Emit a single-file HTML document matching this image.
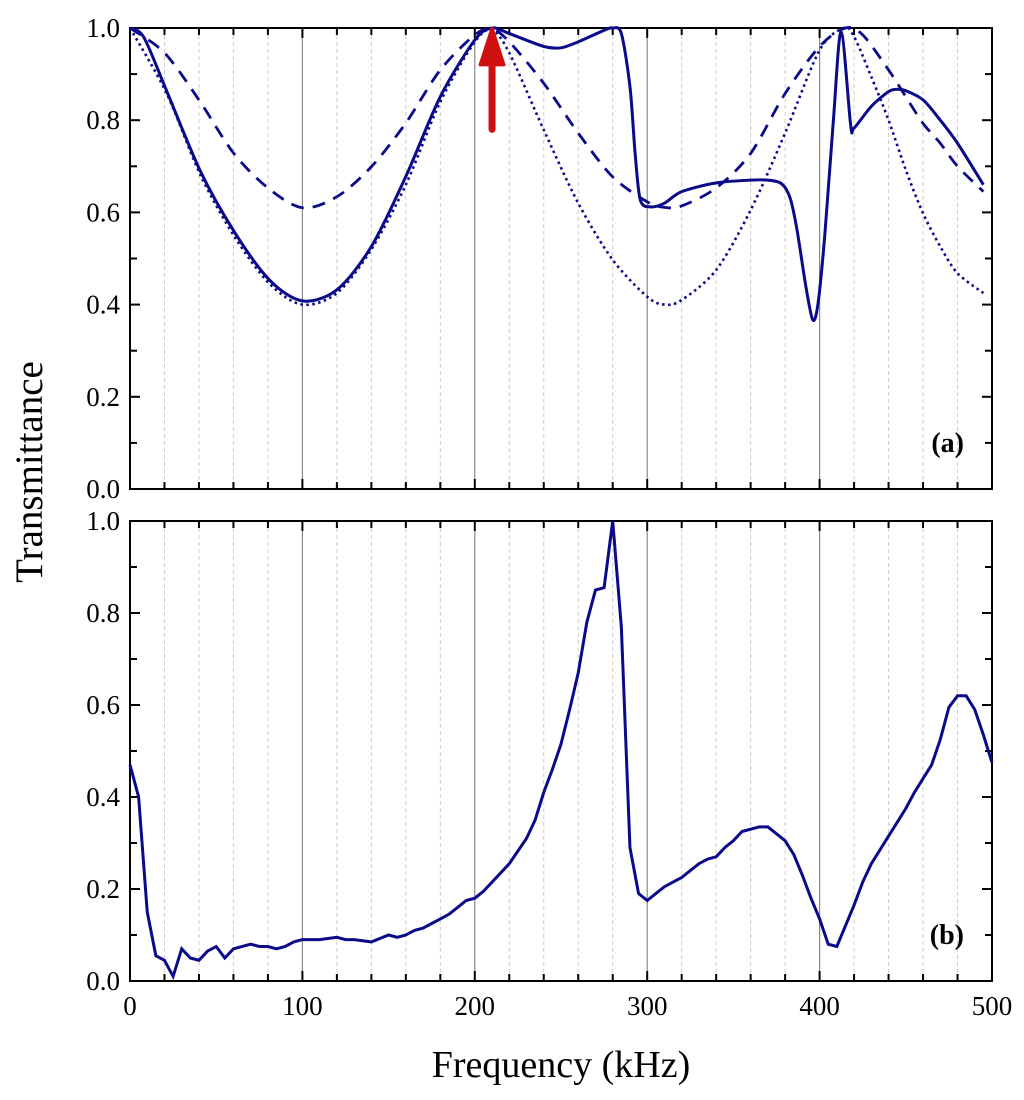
<!DOCTYPE html>
<html><head><meta charset="utf-8"><style>
body{margin:0;background:#fff}
svg text{font-family:"Liberation Serif",serif;fill:#000}
</style></head><body>
<svg id="chart" width="1024" height="1095" xmlns="http://www.w3.org/2000/svg"></svg>
<script>
const xTicks=[0,100,200,300,400,500];
const yTicks=[0.0,0.2,0.4,0.6,0.8,1.0];
const solidA=[[0,1.0],[8,0.98],[21,0.866],[41,0.688],[61,0.555],[81,0.453],[100,0.408],[120,0.432],[140,0.526],[160,0.678],[180,0.851],[200,0.974],[210,1.0],[220,0.988],[240,0.96],[250,0.957],[260,0.97],[275,0.995],[280,1.0],[285,0.988],[290,0.873],[293,0.728],[296,0.627],[302,0.612],[310,0.62],[320,0.645],[340,0.664],[360,0.67],[370,0.67],[378,0.662],[383,0.63],[387,0.56],[392,0.44],[396,0.367],[399,0.4],[403,0.55],[408,0.8],[412.5,0.992],[418,0.79],[420,0.783],[430,0.83],[440,0.862],[445,0.867],[450,0.864],[460,0.844],[470,0.8],[480,0.75],[495,0.66]];
const dashedA=[[0,1],[20,0.946],[40,0.844],[60,0.729],[80,0.653],[100,0.61],[120,0.634],[140,0.699],[160,0.794],[180,0.909],[200,0.985],[210,0.998],[220,0.97],[240,0.88],[260,0.772],[280,0.677],[300,0.623],[310,0.611],[320,0.614],[340,0.653],[360,0.728],[380,0.858],[400,0.96],[415,1.0],[425,0.985],[440,0.909],[450,0.851],[460,0.793],[470,0.75],[480,0.7],[495,0.645]];
const dottedA=[[0,1],[21,0.86],[41,0.68],[61,0.545],[81,0.445],[100,0.4],[120,0.425],[140,0.52],[160,0.66],[180,0.84],[200,0.97],[210,0.995],[220,0.946],[240,0.779],[260,0.62],[280,0.497],[300,0.417],[310,0.4],[320,0.41],[340,0.475],[360,0.605],[380,0.772],[400,0.952],[414,1.0],[420,0.981],[430,0.894],[440,0.8],[450,0.692],[460,0.598],[470,0.526],[480,0.468],[495,0.425]];
const seriesB=[[0,0.47],[5,0.4],[10,0.15],[15,0.055],[20,0.045],[25,0.01],[30,0.07],[35,0.05],[40,0.045],[45,0.065],[50,0.075],[55,0.05],[60,0.07],[70,0.08],[75,0.075],[80,0.075],[85,0.07],[90,0.075],[95,0.085],[100,0.09],[110,0.09],[120,0.095],[125,0.09],[130,0.09],[140,0.085],[150,0.1],[155,0.095],[160,0.1],[165,0.11],[170,0.115],[175,0.125],[180,0.135],[185,0.145],[190,0.16],[195,0.175],[200,0.18],[205,0.195],[210,0.215],[220,0.255],[230,0.31],[235,0.35],[240,0.41],[245,0.46],[250,0.515],[255,0.59],[260,0.67],[265,0.78],[270,0.85],[275,0.855],[280,1.0],[285,0.77],[290,0.29],[295,0.19],[300,0.175],[305,0.19],[310,0.205],[315,0.215],[320,0.225],[325,0.24],[330,0.255],[335,0.265],[340,0.27],[345,0.29],[350,0.305],[355,0.325],[360,0.33],[365,0.335],[370,0.335],[375,0.32],[380,0.305],[385,0.275],[390,0.23],[395,0.18],[400,0.135],[405,0.08],[410,0.075],[415,0.12],[420,0.165],[425,0.215],[430,0.255],[435,0.285],[440,0.315],[445,0.345],[450,0.375],[455,0.41],[460,0.44],[465,0.47],[470,0.525],[475,0.595],[480,0.62],[485,0.62],[490,0.59],[495,0.535],[500,0.475]];
const arrowFreq=210;

const svg=document.getElementById('chart');
const NS='http://www.w3.org/2000/svg';
function mk(tag,attrs,parent){const e=document.createElementNS(NS,tag);for(const k in attrs)e.setAttribute(k,attrs[k]);(parent||svg).appendChild(e);return e;}
const X0=130,X1=992;
function xs(v){return X0+(X1-X0)*v/500;}
function panel(top,bot,name,label){
  const ys=v=>bot-(bot-top)*v;
  const g=mk('g',{});
  
  
  for(let f=20;f<500;f+=20){
    const major=f%100===0;
    const l=mk('line',{x1:xs(f),x2:xs(f),y1:top,y2:bot,stroke:major?'#888':'#ccc','stroke-width':major?1.2:1,'stroke-dasharray':major?'':'4,3'},g);
    
    
    const len=major?10:7;
    mk('line',{x1:xs(f),x2:xs(f),y1:bot,y2:bot-len,stroke:'#000','stroke-width':2},g);
    mk('line',{x1:xs(f),x2:xs(f),y1:top,y2:top+len,stroke:'#000','stroke-width':2},g);
  }
  for(let i=1;i<10;i++){
    const y=ys(i/10),len=i%2===0?10:7;
    mk('line',{x1:X0,x2:X0+len,y1:y,y2:y,stroke:'#000','stroke-width':2},g);
    mk('line',{x1:X1,x2:X1-len,y1:y,y2:y,stroke:'#000','stroke-width':2},g);
  }
  const fr=mk('rect',{x:X0,y:top,width:X1-X0,height:bot-top,fill:'none',stroke:'#000','stroke-width':2},g);
  
  
  yTicks.forEach(v=>{
    const t=mk('text',{x:X0-10,y:ys(v)+9,'text-anchor':'end','font-size':27},g);
    t.textContent=v.toFixed(1);
    
    
  });
  const pl=mk('text',{x:964,y:bot-37,'text-anchor':'end','font-size':28,'font-weight':'bold'},g);
  pl.textContent=label;
  
  
  return ys;
}
function smooth(pts,xs_,ys_){
  const P=pts.map(p=>[xs_(p[0]),ys_(p[1])]);
  let d='M'+P[0][0]+','+P[0][1];
  for(let i=0;i<P.length-1;i++){
    const p0=P[Math.max(0,i-1)],p1=P[i],p2=P[i+1],p3=P[Math.min(P.length-1,i+2)];
    const t=0.15;
    d+=' C'+(p1[0]+(p2[0]-p0[0])*t)+','+(p1[1]+(p2[1]-p0[1])*t)+' '+(p2[0]-(p3[0]-p1[0])*t)+','+(p2[1]-(p3[1]-p1[1])*t)+' '+p2[0]+','+p2[1];
  }
  return d;
}
const C='#0a0a8a';
const ya=panel(28,489,'panel-a','(a)');
const pd=mk('path',{d:smooth(dashedA,xs,ya),fill:'none',stroke:C,'stroke-width':2.8,'stroke-dasharray':'13,9'});


const pt=mk('path',{d:smooth(dottedA,xs,ya),fill:'none',stroke:C,'stroke-width':2.6,'stroke-dasharray':'2.5,3.5'});


const ps=mk('path',{d:smooth(solidA,xs,ya),fill:'none',stroke:C,'stroke-width':3});


const ag=mk('g',{});


mk('line',{x1:xs(arrowFreq),x2:xs(arrowFreq),y1:ya(0.78),y2:ya(0.93),stroke:'#d01010','stroke-width':7,'stroke-linecap':'round'},ag);
mk('polygon',{points:`${xs(arrowFreq)-12},${ya(0.92)} ${xs(arrowFreq)},${ya(1.0)} ${xs(arrowFreq)+12},${ya(0.92)}`,fill:'#d01010','stroke':'#d01010','stroke-width':3,'stroke-linejoin':'round'},ag);

const yb=panel(521,981,'panel-b','(b)');
const pb=mk('path',{d:'M'+seriesB.map(p=>xs(p[0])+','+yb(p[1])).join(' L'),fill:'none',stroke:C,'stroke-width':3});


xTicks.forEach(v=>{
  const t=mk('text',{x:xs(v),y:1015,'text-anchor':'middle','font-size':27});
  t.textContent=v;
  
  
});
const xt=mk('text',{x:561,y:1077,'text-anchor':'middle','font-size':38});
xt.textContent='Frequency (kHz)';


const yt=mk('text',{x:42,y:472,'text-anchor':'middle','font-size':39,transform:'rotate(-90 42 472)'});
yt.textContent='Transmittance';


</script>
</body></html>
